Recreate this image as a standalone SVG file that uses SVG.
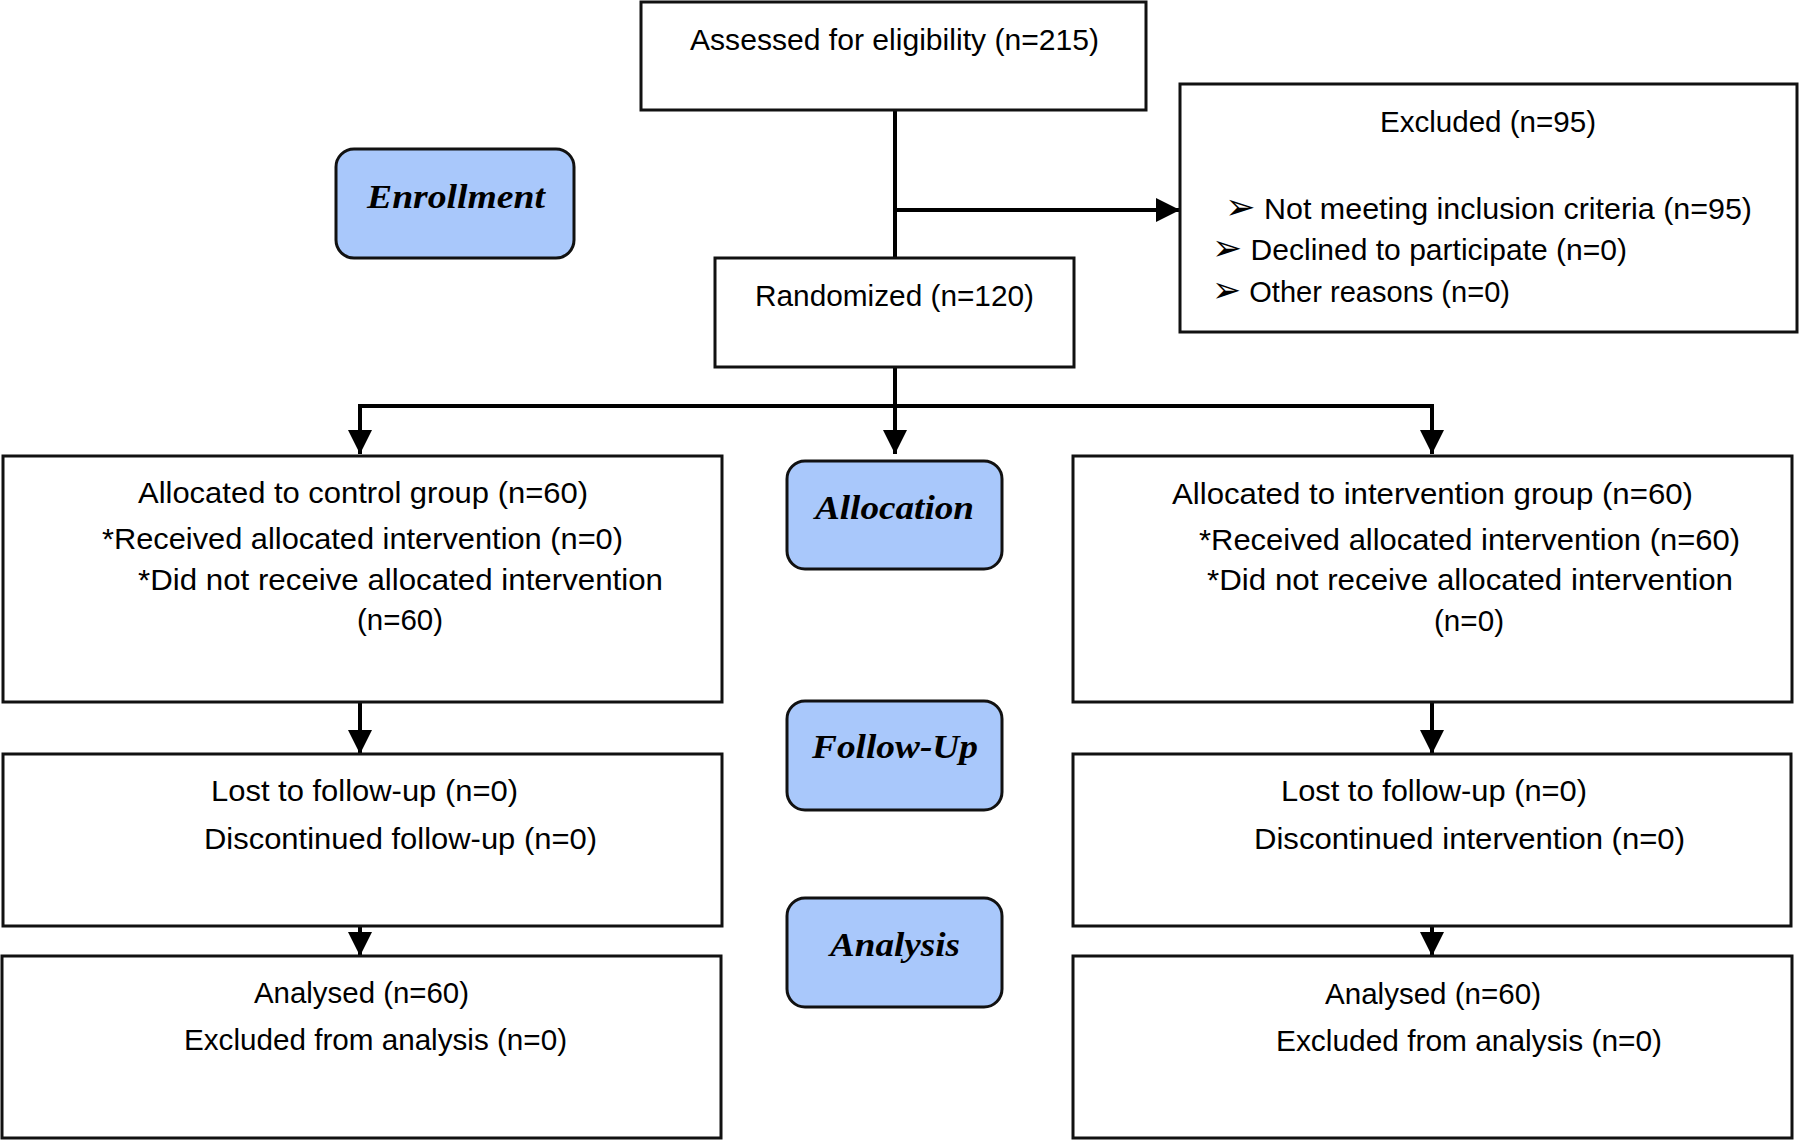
<svg xmlns="http://www.w3.org/2000/svg" width="1799" height="1141" viewBox="0 0 1799 1141">
<defs>
<style>
.box{fill:#fff;stroke:#111;stroke-width:3}
.stage{fill:#a9c8fb;stroke:#111;stroke-width:3}
.t{font-family:"Liberation Sans",Arial,sans-serif;font-size:30px;fill:#000}
.lbl{font-family:"Liberation Serif","Times New Roman",serif;font-size:34px;font-weight:bold;font-style:italic;fill:#000}
.ln{fill:none;stroke:#000;stroke-width:4}
.bul{font-family:"DejaVu Sans",sans-serif;font-size:36px}
</style>
<marker id="ah" viewBox="0 0 24 24" refX="24" refY="12" markerWidth="24" markerHeight="24" markerUnits="userSpaceOnUse" orient="auto">
<path d="M0,0 L24,12 L0,24 z" fill="#000"/>
</marker>
</defs>
<rect width="1799" height="1141" fill="#fff"/>
<g id="connectors">
<line class="ln" x1="895" y1="110" x2="895" y2="258"/>
<line class="ln" x1="895" y1="210" x2="1180" y2="210" marker-end="url(#ah)"/>
<line class="ln" x1="895" y1="367" x2="895" y2="454" marker-end="url(#ah)"/>
<polyline class="ln" points="360,454 360,406 1432,406 1432,454"/>
<line class="ln" x1="360" y1="430" x2="360" y2="454" marker-end="url(#ah)"/>
<line class="ln" x1="1432" y1="430" x2="1432" y2="454" marker-end="url(#ah)"/>
<line class="ln" x1="360" y1="702" x2="360" y2="754" marker-end="url(#ah)"/>
<line class="ln" x1="1432" y1="702" x2="1432" y2="754" marker-end="url(#ah)"/>
<line class="ln" x1="360" y1="926" x2="360" y2="956" marker-end="url(#ah)"/>
<line class="ln" x1="1432" y1="926" x2="1432" y2="956" marker-end="url(#ah)"/>
</g>
<g id="assessed">
<rect class="box" x="641" y="2" width="505" height="108"/>
<text class="t" x="690" y="50" textLength="409" lengthAdjust="spacingAndGlyphs">Assessed for eligibility (n=215)</text>
</g>
<g id="excluded">
<rect class="box" x="1180" y="84" width="617" height="248"/>
<text class="t" x="1380" y="132" textLength="216" lengthAdjust="spacingAndGlyphs">Excluded (n=95)</text>
<text class="t" x="1225" y="219" textLength="527" lengthAdjust="spacingAndGlyphs"><tspan class="bul">➢</tspan> Not meeting inclusion criteria (n=95)</text>
<text class="t" x="1212" y="260" textLength="415" lengthAdjust="spacingAndGlyphs"><tspan class="bul">➢</tspan> Declined to participate (n=0)</text>
<text class="t" x="1212" y="302" textLength="298" lengthAdjust="spacingAndGlyphs"><tspan class="bul">➢</tspan> Other reasons (n=0)</text>
</g>
<g id="randomized">
<rect class="box" x="715" y="258" width="359" height="109"/>
<text class="t" x="755" y="306" textLength="279" lengthAdjust="spacingAndGlyphs">Randomized (n=120)</text>
</g>
<g id="enrollment">
<rect class="stage" x="336" y="149" width="238" height="109" rx="18"/>
<text class="lbl" x="367" y="208" textLength="178" lengthAdjust="spacingAndGlyphs">Enrollment</text>
</g>
<g id="allocation">
<rect class="stage" x="787" y="461" width="215" height="108" rx="18"/>
<text class="lbl" x="815" y="519" textLength="159" lengthAdjust="spacingAndGlyphs">Allocation</text>
</g>
<g id="followup">
<rect class="stage" x="787" y="701" width="215" height="109" rx="18"/>
<text class="lbl" x="812" y="758" textLength="166" lengthAdjust="spacingAndGlyphs">Follow-Up</text>
</g>
<g id="analysis">
<rect class="stage" x="787" y="898" width="215" height="109" rx="18"/>
<text class="lbl" x="830" y="956" textLength="130" lengthAdjust="spacingAndGlyphs">Analysis</text>
</g>
<g id="control">
<rect class="box" x="3" y="456" width="719" height="246"/>
<text class="t" x="138" y="503" textLength="450" lengthAdjust="spacingAndGlyphs">Allocated to control group (n=60)</text>
<text class="t" x="102" y="549" textLength="521" lengthAdjust="spacingAndGlyphs">*Received allocated intervention (n=0)</text>
<text class="t" x="138" y="590" textLength="525" lengthAdjust="spacingAndGlyphs">*Did not receive allocated intervention</text>
<text class="t" x="357" y="630" textLength="86" lengthAdjust="spacingAndGlyphs">(n=60)</text>
</g>
<g id="intervention">
<rect class="box" x="1073" y="456" width="719" height="246"/>
<text class="t" x="1172" y="504" textLength="521" lengthAdjust="spacingAndGlyphs">Allocated to intervention group (n=60)</text>
<text class="t" x="1199" y="550" textLength="541" lengthAdjust="spacingAndGlyphs">*Received allocated intervention (n=60)</text>
<text class="t" x="1207" y="590" textLength="526" lengthAdjust="spacingAndGlyphs">*Did not receive allocated intervention</text>
<text class="t" x="1434" y="631" textLength="70" lengthAdjust="spacingAndGlyphs">(n=0)</text>
</g>
<g id="lost-control">
<rect class="box" x="3" y="754" width="719" height="172"/>
<text class="t" x="211" y="801" textLength="307" lengthAdjust="spacingAndGlyphs">Lost to follow-up (n=0)</text>
<text class="t" x="204" y="849" textLength="393" lengthAdjust="spacingAndGlyphs">Discontinued follow-up (n=0)</text>
</g>
<g id="lost-intervention">
<rect class="box" x="1073" y="754" width="718" height="172"/>
<text class="t" x="1281" y="801" textLength="306" lengthAdjust="spacingAndGlyphs">Lost to follow-up (n=0)</text>
<text class="t" x="1254" y="849" textLength="431" lengthAdjust="spacingAndGlyphs">Discontinued intervention (n=0)</text>
</g>
<g id="analysed-control">
<rect class="box" x="2" y="956" width="719" height="182"/>
<text class="t" x="254" y="1003" textLength="215" lengthAdjust="spacingAndGlyphs">Analysed (n=60)</text>
<text class="t" x="184" y="1050" textLength="383" lengthAdjust="spacingAndGlyphs">Excluded from analysis (n=0)</text>
</g>
<g id="analysed-intervention">
<rect class="box" x="1073" y="956" width="719" height="182"/>
<text class="t" x="1325" y="1004" textLength="216" lengthAdjust="spacingAndGlyphs">Analysed (n=60)</text>
<text class="t" x="1276" y="1051" textLength="386" lengthAdjust="spacingAndGlyphs">Excluded from analysis (n=0)</text>
</g>
</svg>
